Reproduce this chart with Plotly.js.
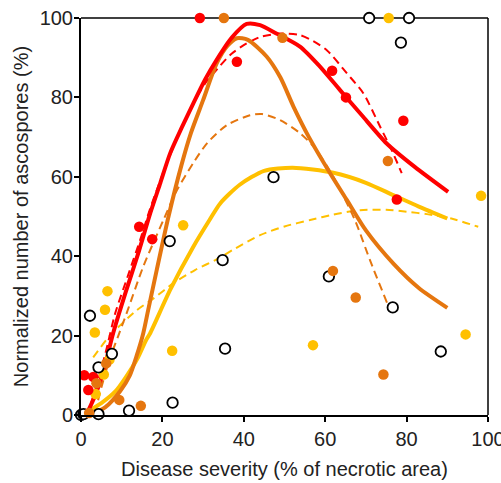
<!DOCTYPE html>
<html>
<head>
<meta charset="utf-8">
<script src="https://cdn.plot.ly/plotly-3.0.1.min.js"></script>
<style>html,body{margin:0;padding:0;background:#fff;}#chart{width:501px;height:483px;}</style>
</head>
<body>
<div id="chart"></div>
<script>
// Observed data points (x = disease severity %, y = normalized ascospores %)
const redX = [0.8, 3.0, 1.8, 14.3, 17.5, 29.2, 38.3, 61.7, 65.1, 79.2, 77.6];
const redY = [10, 9.6, 6.3, 47.4, 44.3, 100, 89, 86.7, 80, 74.1, 54.3];

const orangeX = [2.0, 3.8, 6.2, 9.4, 14.7, 35.1, 49.5, 75.4, 61.9, 67.5, 74.3];
const orangeY = [0.5, 8.0, 13.0, 3.8, 2.3, 100, 95, 64, 36.3, 29.6, 10.2];

const yellowX = [3.4, 5.9, 6.5, 3.6, 5.6, 7.0, 22.4, 25.1, 57.0, 75.6, 94.5, 98.3];
const yellowY = [20.8, 26.5, 31.2, 5.3, 10.2, 14.0, 16.2, 47.8, 17.6, 100, 20.3, 55.2];

const blackX = [0.0, 0.6, 4.3, 11.8, 22.5, 4.3, 7.6, 2.2, 21.8, 34.8, 35.4, 47.3, 60.9, 76.6, 88.4, 70.8, 80.6, 78.6];
const blackY = [0.0, 0.2, 0.2, 1.1, 3.1, 12.0, 15.4, 25.0, 43.8, 39.0, 16.7, 59.9, 34.9, 27.1, 16.0, 100, 100, 93.8];

// Fitted curves
const redFitX = [1.5, 3.5, 5.5, 7.9, 11, 14, 17, 19.5, 21.9, 24.8, 27.6, 30.5, 33.3, 37, 40.7, 44, 48, 53.8, 58.5, 63.6, 69, 75.1, 82, 90.2];
const redFitY = [0.5, 5, 11, 20.6, 31, 40.5, 50.8, 58.5, 65.9, 72.5, 78.5, 84.5, 89.4, 95, 98.5, 98.2, 96.1, 92.8, 88, 81.9, 75.5, 68.4, 62.5, 56.2];

const redDashX = [1.5, 4, 6, 8.4, 11.5, 14.5, 17, 20, 23.5, 27.6, 30.5, 34.2, 37, 40.7, 44, 48.9, 53.8, 57, 60.4, 65.3, 69.4, 73.5, 76.3, 78.8];
const redDashY = [0, 8, 15.5, 25.6, 35, 44, 52, 60.5, 69.5, 78.5, 83.5, 88, 91, 93.6, 95.2, 96.1, 95.7, 94.2, 91.9, 86.1, 81, 72.6, 66.8, 60.9];

const orangeFitX = [2, 6, 9.6, 12, 13.7, 15.3, 16.5, 18.6, 21.5, 24.7, 27, 30, 33.3, 36, 38.3, 41, 45.6, 49, 52.2, 56, 61.2, 65.3, 70, 76.7, 83, 90];
const orangeFitY = [0, 2, 6, 10, 15, 20.6, 26.4, 36.5, 50, 63, 71, 79.3, 88.5, 93, 94.9, 94.5, 90.3, 85, 77.7, 70, 60.9, 54.2, 46.5, 38.2, 32, 27];

const orangeDashX = [3.5, 4.5, 7, 9, 11.2, 15.3, 20.2, 23.5, 27.6, 31, 35.8, 41.5, 44.5, 48.9, 53.8, 57.5, 62, 67.3, 71, 75.3];
const orangeDashY = [0.5, 5, 14, 19.5, 25.6, 37.4, 49, 56.5, 63.5, 68.5, 73, 75.5, 75.8, 74.3, 71, 67.2, 60, 49.1, 39, 28];

const yellowFitX = [1, 5, 8.5, 11, 14, 16, 17, 21.9, 27.6, 31.5, 34.2, 39, 45, 52, 62, 70, 76.7, 83, 90];
const yellowFitY = [0.5, 3, 6, 9.5, 14.5, 18.9, 20.6, 31.5, 42.4, 49, 53.3, 58, 61.5, 62.3, 61, 58.5, 55.4, 52.5, 49.5];

const yellowDashX = [3, 7.1, 13.7, 18, 22.7, 28, 33.3, 38, 44, 50, 56.3, 62, 68.6, 75, 80, 85, 91, 97.6];
const yellowDashY = [14.5, 20, 26.4, 29.5, 33.2, 36.5, 39.2, 42, 45.3, 47.5, 49.1, 50.5, 51.6, 51.7, 51.2, 50.6, 49.5, 47.4];

const xTicks = [0, 20, 40, 60, 80, 100];
const yTicks = [0, 20, 40, 60, 80, 100];

const RED = '#ff0000', ORANGE = '#e5760f', YELLOW = '#ffc000';

function line(x, y, color, width, dash) {
  return {x: x, y: y, type: 'scatter', mode: 'lines', line: {color: color, width: width, dash: dash, shape: 'spline', smoothing: 0.7}, hoverinfo: 'skip', showlegend: false, cliponaxis: false};
}
function pts(x, y, fill, lineColor, lw) {
  return {x: x, y: y, type: 'scatter', mode: 'markers', marker: {size: 10.5, color: fill, line: {color: lineColor, width: lw}}, showlegend: false, cliponaxis: false};
}

const data = [
  line(yellowDashX, yellowDashY, YELLOW, 2, '8px,5px'),
  line(orangeDashX, orangeDashY, ORANGE, 2, '8px,5px'),
  line(redDashX, redDashY, RED, 2, '8px,5px'),
  line(yellowFitX, yellowFitY, YELLOW, 4, 'solid'),
  line(orangeFitX, orangeFitY, ORANGE, 4, 'solid'),
  line(redFitX, redFitY, RED, 4, 'solid'),
  pts(yellowX, yellowY, YELLOW, YELLOW, 0),
  pts(redX, redY, RED, RED, 0),
  pts(blackX, blackY, '#ffffff', '#000000', 1.8),
  pts(orangeX, orangeY, ORANGE, ORANGE, 0)
];

const axisFont = {family: 'Liberation Sans, Arial, sans-serif', size: 20, color: '#222'};

const layout = {
  width: 501, height: 483,
  margin: {l: 81, r: 13, t: 18, b: 68, pad: 0},
  paper_bgcolor: '#fff', plot_bgcolor: '#fff',
  showlegend: false,
  font: axisFont,
  xaxis: {
    range: [0, 100], tickvals: xTicks, ticktext: xTicks.map(String),
    showgrid: false, zeroline: false, showline: true, linecolor: '#000', linewidth: 2,
    ticks: 'outside', ticklen: 5, tickwidth: 2, tickcolor: '#000',
    tickfont: axisFont, automargin: false, ticklabeloverflow: 'allow',
    title: {text: 'Disease severity (% of necrotic area)', font: axisFont, standoff: 13}
  },
  yaxis: {
    range: [0, 100], tickvals: yTicks, ticktext: yTicks.map(String),
    showgrid: false, zeroline: false, showline: true, linecolor: '#000', linewidth: 2,
    ticks: 'outside', ticklen: 5, tickwidth: 2, tickcolor: '#000',
    tickfont: axisFont, automargin: false, ticklabeloverflow: 'allow', ticklabelstandoff: -3,
    title: {text: 'Normalized number of ascospores (%)', font: axisFont, standoff: 6}
  },
  shapes: [
    {type: 'line', xref: 'paper', yref: 'paper', x0: 0, x1: 1, y0: 1, y1: 1, line: {color: '#000', width: 1.5}, layer: 'below'},
    {type: 'line', xref: 'paper', yref: 'paper', x0: 1, x1: 1, y0: 0, y1: 1, line: {color: '#000', width: 1.5}, layer: 'below'}
  ]
};

Plotly.newPlot('chart', data, layout, {staticPlot: true, displayModeBar: false});
</script>
</body>
</html>
